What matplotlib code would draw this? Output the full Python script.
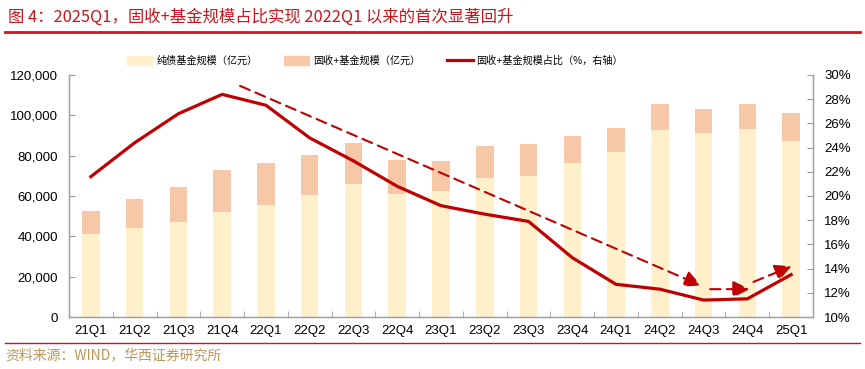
import matplotlib
matplotlib.use("Agg")
import matplotlib.pyplot as plt
import numpy as np
from matplotlib.lines import Line2D
from matplotlib.patches import Patch
from matplotlib.ticker import FuncFormatter, FixedLocator

plt.rcParams['font.family'] = ['Liberation Sans', 'Noto Sans CJK SC', 'DejaVu Sans']

categories = ["21Q1", "21Q2", "21Q3", "21Q4", "22Q1", "22Q2", "22Q3", "22Q4", "23Q1",
              "23Q2", "23Q3", "23Q4", "24Q1", "24Q2", "24Q3", "24Q4", "25Q1"]
bond_fund = [41000, 43980, 46950, 51900, 55390, 60500, 66100, 61150, 62480,
             69090, 69920, 76360, 81820, 92560, 91070, 93060, 87440]
total_fund = [52560, 58360, 64600, 72890, 76360, 80480, 86130, 77690, 77520,
              84790, 85780, 89590, 93880, 105620, 103140, 105620, 101320]
plus_fund = [t - b for t, b in zip(total_fund, bond_fund)]
plus_share = [21.6, 24.4, 26.8, 28.4, 27.5, 24.8, 22.9, 20.8, 19.2,
              18.5, 17.9, 14.9, 12.7, 12.3, 11.4, 11.5, 13.5]

# trend arrows (category index, % on right axis)
arrow_starts = [(3.41, 29.1), (14.15, 12.3), (15.14, 12.9)]
arrow_ends = [(13.94, 12.6), (15.05, 12.3), (16.01, 14.2)]

left_ticks = [0, 20000, 40000, 60000, 80000, 100000, 120000]
right_ticks = [10, 12, 14, 16, 18, 20, 22, 24, 26, 28, 30]

title = "图 4：2025Q1，固收+基金规模占比实现 2022Q1 以来的首次显著回升"
source = "资料来源：WIND，华西证券研究所"
legend_labels = ["纯债基金规模（亿元）", "固收+基金规模（亿元）", "固收+基金规模占比（%，右轴）"]

RED = "#C00000"
TITLE_RED = "#C8161D"
BOND_C = "#FFF0CC"
PLUS_C = "#F7C8A8"
GREY = "#A0A0A0"

fig = plt.figure(figsize=(8.65, 3.69), dpi=100)
ax = fig.add_axes([69/865, 1-317/369, (813-69)/865, (317-75)/369])
x = np.arange(len(categories))
w = 0.4
ax.bar(x, bond_fund, width=w, color=BOND_C, zorder=2)
ax.bar(x, plus_fund, width=w, bottom=bond_fund, color=PLUS_C, zorder=2)
ax.set_xlim(-0.5, len(categories)-0.5)
ax.set_ylim(0, 120000)
ax.yaxis.set_major_locator(FixedLocator(left_ticks))
ax.yaxis.set_major_formatter(FuncFormatter(lambda v, p: f"{int(v):,}"))
ax.set_xticks(x)
ax.set_xticklabels(categories, fontsize=9.5)
ax.xaxis.set_minor_locator(FixedLocator(np.arange(-0.5, len(categories), 1.0)))
ax.tick_params(axis='x', which='major', length=0, pad=6)
ax.tick_params(axis='x', which='minor', length=4, direction='in', color=GREY)
ax.tick_params(axis='y', length=4, direction='in', color=GREY, labelsize=9.5, pad=8)
ax.spines['top'].set_visible(False)
for s in ['left', 'bottom', 'right']:
    ax.spines[s].set_color(GREY)
    ax.spines[s].set_linewidth(1)

ax2 = ax.twinx()
ax2.set_ylim(10, 30)
ax2.yaxis.set_major_locator(FixedLocator(right_ticks))
ax2.yaxis.set_major_formatter(FuncFormatter(lambda v, p: f"{int(v)}%"))
ax2.tick_params(axis='y', length=4, direction='in', color=GREY, labelsize=9.5, pad=8)
ax2.spines['top'].set_visible(False)
for s in ['left', 'bottom', 'right']:
    ax2.spines[s].set_color(GREY)
ax2.plot(x, plus_share, color=RED, lw=2.3, zorder=5)

for (x0, y0), (x1, y1) in zip(arrow_starts, arrow_ends):
    ax2.annotate("", xy=(x1, y1), xytext=(x0, y0),
                 arrowprops=dict(arrowstyle='-|>,head_length=1.0,head_width=0.5',
                                 color=RED, lw=1.5, linestyle=(0, (5, 3)),
                                 shrinkA=0, shrinkB=0), zorder=6)

handles = [Patch(color=BOND_C), Patch(color=PLUS_C), Line2D([], [], color=RED, lw=2.3)]
fig.legend(handles, legend_labels, loc='center left', bbox_to_anchor=(118/865, 1-61/369),
           ncol=3, frameon=False, fontsize=7.3, handlelength=2.5, handleheight=0.9,
           columnspacing=2.6, handletextpad=0.4)

fig.text(8/865, 1-17/369, title, color=TITLE_RED, fontsize=11.8, va='center', ha='left',
         family=['Noto Sans CJK SC', 'DejaVu Sans'])
fig.add_artist(Line2D([5/865, 860/865], [1-32/369, 1-32/369], color=TITLE_RED, lw=2))
fig.add_artist(Line2D([5/865, 860/865], [1-343/369, 1-343/369], color=TITLE_RED, lw=1))
fig.text(5/865, 1-355/369, source, color="#BE965A", fontsize=10, va='center', ha='left',
         family=['Noto Sans CJK SC', 'DejaVu Sans'])

fig.savefig("out.png", dpi=100)
